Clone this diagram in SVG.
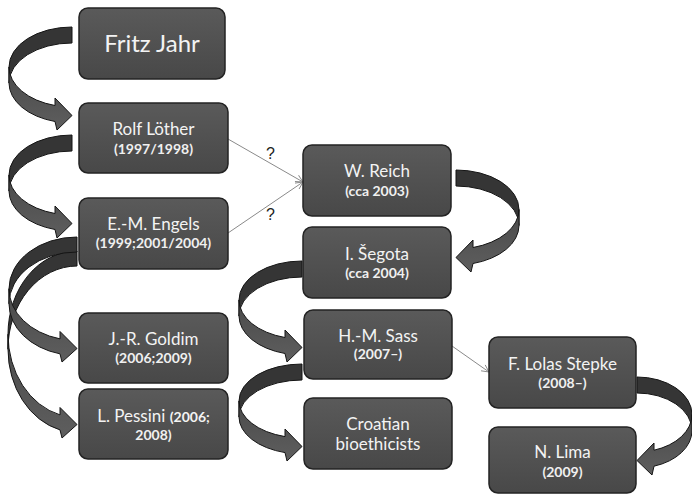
<svg xmlns="http://www.w3.org/2000/svg" width="692" height="494" viewBox="0 0 692 494">
<defs>
<linearGradient id="boxg" x1="0" y1="0" x2="0" y2="1">
<stop offset="0" stop-color="#5a5a5a"/>
<stop offset="1" stop-color="#484848"/>
</linearGradient>
<linearGradient id="frontg" x1="0" y1="0" x2="0" y2="1">
<stop offset="0" stop-color="#4a4a4a"/>
<stop offset="1" stop-color="#5e5e5e"/>
</linearGradient>
<marker id="thin" viewBox="0 0 10 10" refX="9" refY="5" markerWidth="9" markerHeight="9" orient="auto" markerUnits="userSpaceOnUse">
<path d="M1,1 L9,5 L1,9" fill="none" stroke="#8a8a8a" stroke-width="1"/>
</marker>
<style>
.box{fill:url(#boxg);stroke:#232323;stroke-width:1.5}
.t1{font-family:Lato,"Liberation Sans",sans-serif;font-size:17px;fill:#f3f3f3;text-anchor:middle}
.t2{font-family:Lato,"Liberation Sans",sans-serif;font-size:14px;font-weight:bold;fill:#f0f0f0;text-anchor:middle}
.big{font-family:Lato,"Liberation Sans",sans-serif;font-size:24px;fill:#f3f3f3;text-anchor:middle}
.back{fill:#353535;stroke:#151515;stroke-width:1}
.front{fill:url(#frontg);stroke:#151515;stroke-width:1}
.line{fill:none;stroke:#8a8a8a;stroke-width:1;marker-end:url(#thin)}
.q{font-family:"Liberation Sans",Arial,sans-serif;font-size:16px;fill:#222}
</style>
</defs>
<rect width="692" height="494" fill="#ffffff"/>

<g id="connectors">
<path class="back" d="M72,27 A63,40 0 0 0 9,67 L9,83 A63,40 0 0 1 72,43 Z"/>
<path class="front" d="M9,67 A63,40 0 0 0 55,105.5 L55,98 L72,115.5 L57,130 L55,121.5 A63,40 0 0 1 9,83 Z"/>
<g transform="translate(0,108)">
<path class="back" d="M72,27 A63,40 0 0 0 9,67 L9,83 A63,40 0 0 1 72,43 Z"/>
<path class="front" d="M9,67 A63,40 0 0 0 55,105.5 L55,98 L72,115.5 L57,130 L55,121.5 A63,40 0 0 1 9,83 Z"/>
</g>
<path class="back" d="M77,251 A69,83.25 0 0 0 8,334.25 L8,349.25 A69,83.25 0 0 1 77,266 Z"/>
<path class="front" d="M8,334.25 A69,83.25 0 0 0 60,414.9 L60,407.5 L77,424.5 L62,438 L60,429.9 A69,83.25 0 0 1 8,349.25 Z"/>
<path class="back" d="M77,237 A68,51.75 0 0 0 9,288.75 L9,303.75 A68,51.75 0 0 1 77,252 Z"/>
<path class="front" d="M9,288.75 A68,51.75 0 0 0 60,338.85 L60,331.5 L77,348.5 L62,362 L60,353.85 A68,51.75 0 0 1 9,303.75 Z"/>
<path class="back" d="M456,170 A63,39.5 0 0 1 519,209.5 L519,225.5 A63,39.5 0 0 0 456,186 Z"/>
<path class="front" d="M519,209.5 A63,39.5 0 0 1 473,247.5 L473,240 L456,257.5 L471,272 L473,263.5 A63,39.5 0 0 0 519,225.5 Z"/>
<path class="back" d="M302,261 A63,39 0 0 0 239,300 L239,316 A63,39 0 0 1 302,277 Z"/>
<path class="front" d="M239,300 A63,39 0 0 0 285,337.5 L285,330 L302,347.5 L287,362 L285,353.5 A63,39 0 0 1 239,316 Z"/>
<path class="back" d="M302,364 A63,37 0 0 0 239,401 L239,417 A63,37 0 0 1 302,380 Z"/>
<path class="front" d="M239,401 A63,37 0 0 0 285,436.6 L285,429 L302,446.5 L287,461 L285,452.6 A63,37 0 0 1 239,417 Z"/>
<path class="back" d="M637,377 A55,37.5 0 0 1 692,414.5 L692,430.5 A55,37.5 0 0 0 637,393 Z"/>
<path class="front" d="M692,414.5 A55,37.5 0 0 1 654,450.2 L654,443 L637,460.5 L652,475 L654,466.2 A55,37.5 0 0 0 692,430.5 Z"/>
<path class="line" d="M228,139 L303,182"/>
<path class="line" d="M228,233 L303,182"/>
<path class="line" d="M452,346 L489,372"/>
<text class="q" x="266" y="159">?</text>
<text class="q" x="266" y="220">?</text>
</g>

<g id="fritz-jahr"><rect class="box" x="79" y="8" width="146" height="71" rx="9"/><text class="big" x="152" y="52">Fritz Jahr</text></g>
<g id="rolf-lother"><rect class="box" x="79" y="103" width="149" height="70" rx="9"/><text class="t1" x="153.5" y="135">Rolf Löther</text><text class="t2" x="153.5" y="154">(1997/1998)</text></g>
<g id="engels"><rect class="box" x="79" y="198" width="149" height="71" rx="9"/><text class="t1" x="153.5" y="230">E.-M. Engels</text><text class="t2" x="153.5" y="248">(1999;2001/2004)</text></g>
<g id="goldim"><rect class="box" x="79" y="313" width="149" height="70" rx="9"/><text class="t1" x="153.5" y="345">J.-R. Goldim</text><text class="t2" x="153.5" y="363">(2006;2009)</text></g>
<g id="pessini"><rect class="box" x="79" y="389" width="149" height="70" rx="9"/><text class="t1" x="153.5" y="422">L. Pessini <tspan font-size="14" font-weight="bold">(2006;</tspan></text><text class="t2" x="153.5" y="440">2008)</text></g>
<g id="reich"><rect class="box" x="303" y="145" width="148" height="71" rx="9"/><text class="t1" x="377" y="177">W. Reich</text><text class="t2" x="377" y="196">(cca 2003)</text></g>
<g id="segota"><rect class="box" x="303" y="227" width="148" height="71" rx="9"/><text class="t1" x="377" y="260">I. Šegota</text><text class="t2" x="377" y="278">(cca 2004)</text></g>
<g id="sass"><rect class="box" x="304" y="310" width="148" height="69" rx="9"/><text class="t1" x="378" y="342">H.-M. Sass</text><text class="t2" x="378" y="359">(2007–)</text></g>
<g id="croatian"><rect class="box" x="304" y="398" width="148" height="71" rx="9"/><text class="t1" x="378" y="430">Croatian</text><text class="t1" x="378" y="450">bioethicists</text></g>
<g id="stepke"><rect class="box" x="489" y="337" width="147" height="71" rx="9"/><text class="t1" x="562.5" y="370">F. Lolas Stepke</text><text class="t2" x="562.5" y="388">(2008–)</text></g>
<g id="lima"><rect class="box" x="489" y="427" width="147" height="66" rx="9"/><text class="t1" x="562.5" y="458">N. Lima</text><text class="t2" x="562.5" y="477">(2009)</text></g>
</svg>
